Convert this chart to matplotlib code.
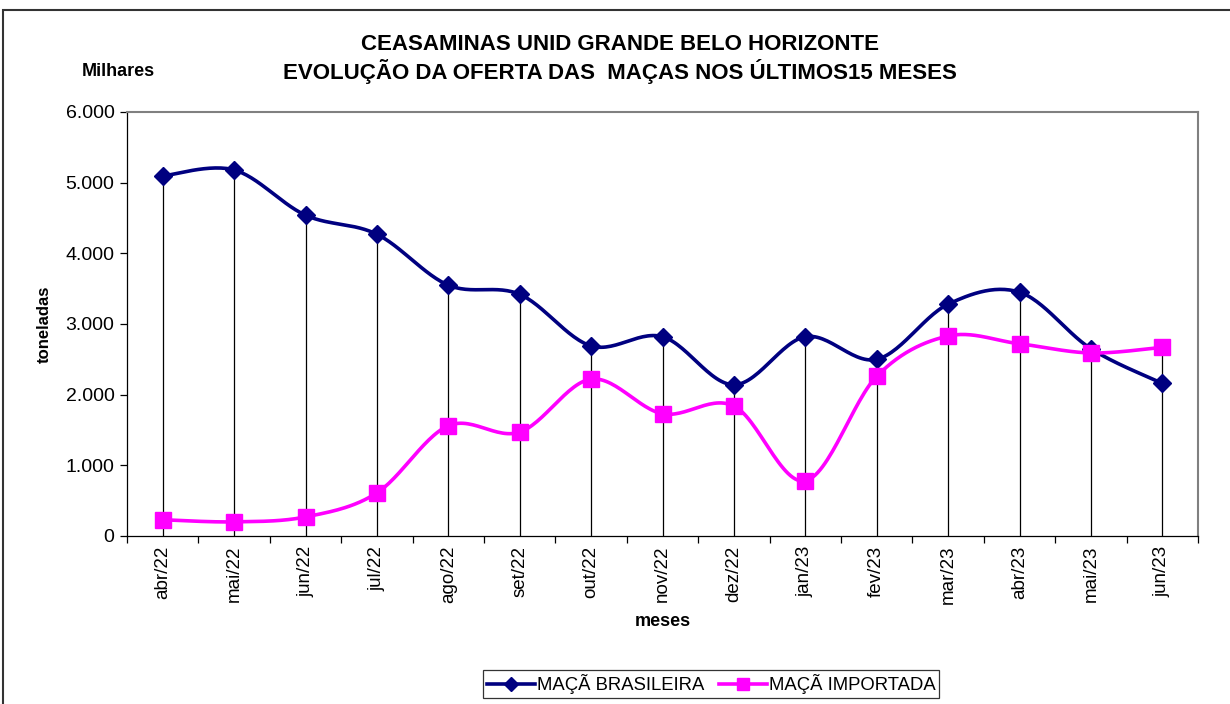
import numpy as np
import matplotlib
matplotlib.use('Agg')
import matplotlib.pyplot as plt
from matplotlib.patches import Rectangle
from matplotlib.ticker import FuncFormatter, FixedLocator

plt.rcParams['font.family'] = ['Liberation Sans', 'DejaVu Sans']

meses = ['abr/22', 'mai/22', 'jun/22', 'jul/22', 'ago/22', 'set/22', 'out/22', 'nov/22',
         'dez/22', 'jan/23', 'fev/23', 'mar/23', 'abr/23', 'mai/23', 'jun/23']
brasileira = [5095, 5180, 4540, 4270, 3550, 3420, 2690, 2820, 2140, 2820, 2500, 3280, 3450, 2650, 2160]
importada = [230, 200, 270, 610, 1560, 1470, 2220, 1730, 1840, 780, 2260, 2830, 2720, 2590, 2670]

NAVY = '#000080'
MAGENTA = '#FF00FF'


def smooth(xs, ys, n=30):
    # curva suavizada tipo Excel (Catmull-Rom passando pelos pontos)
    xs = np.asarray(xs, float)
    ys = np.asarray(ys, float)
    px = np.concatenate([[xs[0]], xs, [xs[-1]]])
    py = np.concatenate([[ys[0]], ys, [ys[-1]]])
    out_x, out_y = [], []
    t = np.linspace(0, 1, n)
    for i in range(1, len(px) - 2):
        p0, p1, p2, p3 = (np.array([px[j], py[j]]) for j in range(i - 1, i + 3))
        c1 = p1 + (p2 - p0) / 6
        c2 = p2 - (p3 - p1) / 6
        b = ((1 - t) ** 3)[:, None] * p1 + (3 * (1 - t) ** 2 * t)[:, None] * c1 \
            + (3 * (1 - t) * t ** 2)[:, None] * c2 + (t ** 3)[:, None] * p2
        out_x.extend(b[:, 0])
        out_y.extend(b[:, 1])
    return out_x, out_y


fig = plt.figure(figsize=(12.3, 7.04), dpi=100)
ax = fig.add_axes([127 / 1230, 1 - 536 / 704, 1071 / 1230, 424 / 704])

x = np.arange(len(meses))

# linhas de projeção
tops = np.maximum(brasileira, importada)
ax.vlines(x, 0, tops, colors='black', linewidth=0.9, zorder=1)

sx, sy = smooth(x, brasileira)
ax.plot(sx, sy, color=NAVY, linewidth=2.6, zorder=3)
ax.plot(x, brasileira, linestyle='none', marker='D', markersize=9, color=NAVY, zorder=4)

sx, sy = smooth(x, importada)
ax.plot(sx, sy, color=MAGENTA, linewidth=2.6, zorder=3)
ax.plot(x, importada, linestyle='none', marker='s', markersize=11, color=MAGENTA, zorder=4)

ax.set_xlim(-0.5, len(meses) - 0.5)
ax.set_ylim(0, 6000)
ax.set_yticks(range(0, 6001, 1000))
ax.yaxis.set_major_formatter(FuncFormatter(lambda v, p: f'{int(v):,}'.replace(',', '.')))
ax.set_xticks(x)
ax.set_xticklabels(meses, rotation=90, fontsize=13.5)
ax.tick_params(axis='x', length=0, pad=7)
ax.xaxis.set_minor_locator(FixedLocator(np.arange(-0.5, len(meses), 1)))
ax.tick_params(axis='x', which='minor', length=5, direction='out', width=0.9)
ax.tick_params(axis='y', length=5, direction='out', labelsize=14, width=0.9, pad=4)

for s in ['top', 'right']:
    ax.spines[s].set_color('#808080')
    ax.spines[s].set_linewidth(1.5)
for s in ['left', 'bottom']:
    ax.spines[s].set_color('black')
    ax.spines[s].set_linewidth(0.9)

ax.set_ylabel('toneladas', fontsize=12, fontweight='bold', labelpad=10)
ax.set_xlabel('meses', fontsize=13, fontweight='bold', labelpad=6)

fig.text(620 / 1230, 1 - 44 / 704, 'CEASAMINAS UNID GRANDE BELO HORIZONTE',
         ha='center', va='center', fontsize=16, fontweight='bold')
fig.text(620 / 1230, 1 - 72 / 704, 'EVOLUÇÃO DA OFERTA DAS  MAÇAS NOS ÚLTIMOS15 MESES',
         ha='center', va='center', fontsize=16, fontweight='bold')
fig.text(118 / 1230, 1 - 72 / 704, 'Milhares', ha='center', va='center',
         fontsize=13, fontweight='bold')

# moldura externa do gráfico
fig.patches.append(Rectangle((3 / 1230, -0.1), 1.2, 1 - 10 / 704 + 0.1, transform=fig.transFigure,
                             fill=False, edgecolor='#333333', linewidth=1.5))

h1, = ax.plot([], [], color=NAVY, linewidth=2.6, marker='D', markersize=7, label='MAÇÃ BRASILEIRA')
h2, = ax.plot([], [], color=MAGENTA, linewidth=2.6, marker='s', markersize=8, label='MAÇÃ IMPORTADA')
leg = fig.legend(handles=[h1, h2], loc='center', bbox_to_anchor=(711 / 1230, 1 - 684 / 704),
                 ncol=2, fontsize=13.3, frameon=True, fancybox=False, edgecolor='black',
                 handlelength=2.6, handletextpad=0.1, columnspacing=0.8, borderpad=0.2,
                 borderaxespad=0)
leg.get_frame().set_linewidth(0.9)

fig.savefig('out.png', dpi=100)
